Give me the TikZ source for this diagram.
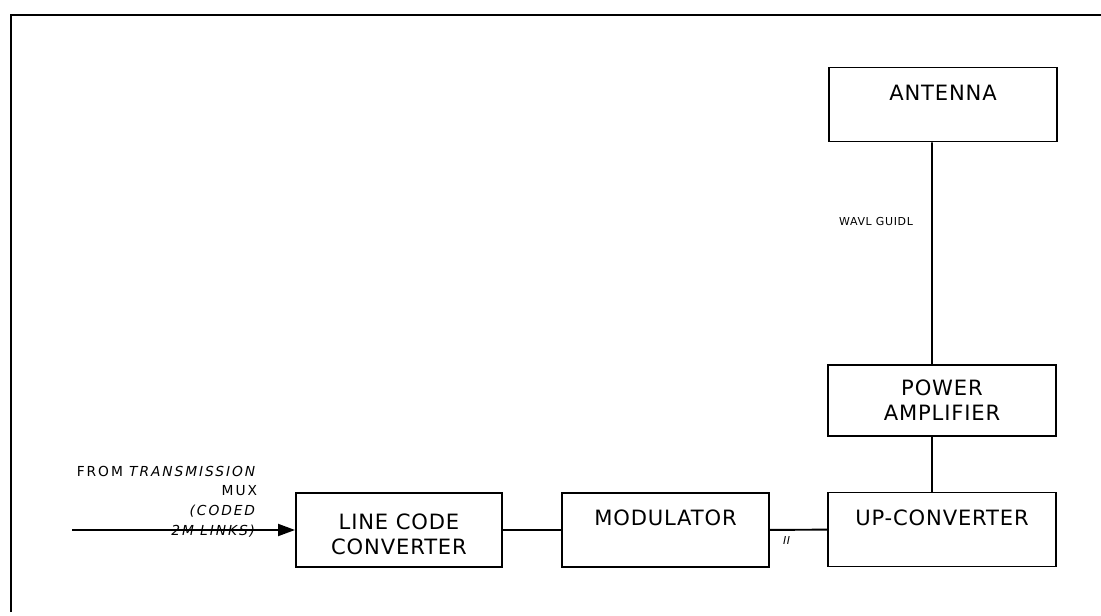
\documentclass[tikz,border=0pt]{standalone}
\usepackage{fontspec}
\setmainfont{DejaVu Sans}
\newfontfamily\boxfont[LetterSpace=4]{DejaVu Sans}
\newfontfamily\notefont[LetterSpace=14]{DejaVu Sans}
\newfontfamily\smallfont[LetterSpace=6]{DejaVu Sans}
\usetikzlibrary{arrows.meta, positioning}
\tikzset{
  every picture/.style={line width=1.4pt},
  box/.style={draw, align=center, inner sep=2pt, minimum width=5.15cm, minimum height=1.85cm,
    font=\boxfont\fontsize{15}{17.7}\selectfont},
  widebox/.style={box, minimum width=5.7cm},
  topbox/.style={text height=11pt, text depth=17pt},
  arrow/.style={-{Triangle[length=12pt, width=8.5pt]}},
  note/.style={font=\notefont\fontsize{9.8}{14}\selectfont, inner sep=0pt},
  small/.style={font=\smallfont\fontsize{7.8}{9}\selectfont, inner sep=0pt},
}

\begin{document}
\begin{tikzpicture}[x=0.025cm, y=-0.025cm]
  \useasboundingbox (0,0) rectangle (1101,616);
  % frame of the sheet
  \draw[line width=1.6pt] (11,612) -- (11,15) -- (1101,15);
  \node[box, text height=35pt] (lcc) at (399,530) {LINE CODE\\CONVERTER};
  \node[box, topbox] (mod) at (665.5,530) {MODULATOR};
  \node[widebox, topbox] (up) at (942,529.5) {UP-CONVERTER};
  \node[widebox, minimum height=1.78cm] (pa) at (942,400.5) {POWER\\AMPLIFIER};
  \node[widebox, topbox] (ant) at (943,104.5) {ANTENNA};
  \coordinate (in) at (72,530);
  \draw[arrow] (in) -- (lcc);
  \draw (lcc) -- (mod);
  \draw (mod) -- (up);
  \draw ([xshift=-0.275cm]ant.south) -- ([xshift=-0.25cm]pa.north);
  \draw ([xshift=-0.25cm]pa.south) -- ([xshift=-0.25cm]up.north);
  \node[note, align=right, anchor=north east] (src) at (258,465)
    {FROM \textit{TRANSMISSION}\\MUX\\\textit{(CODED}\\\textit{2M LINKS)}};
  \node[small] (wg) at (876,222) {WAVL GUIDL};
  \node[small] (ii) at (787,541) {\textit{II}};
\end{tikzpicture}
\end{document}
